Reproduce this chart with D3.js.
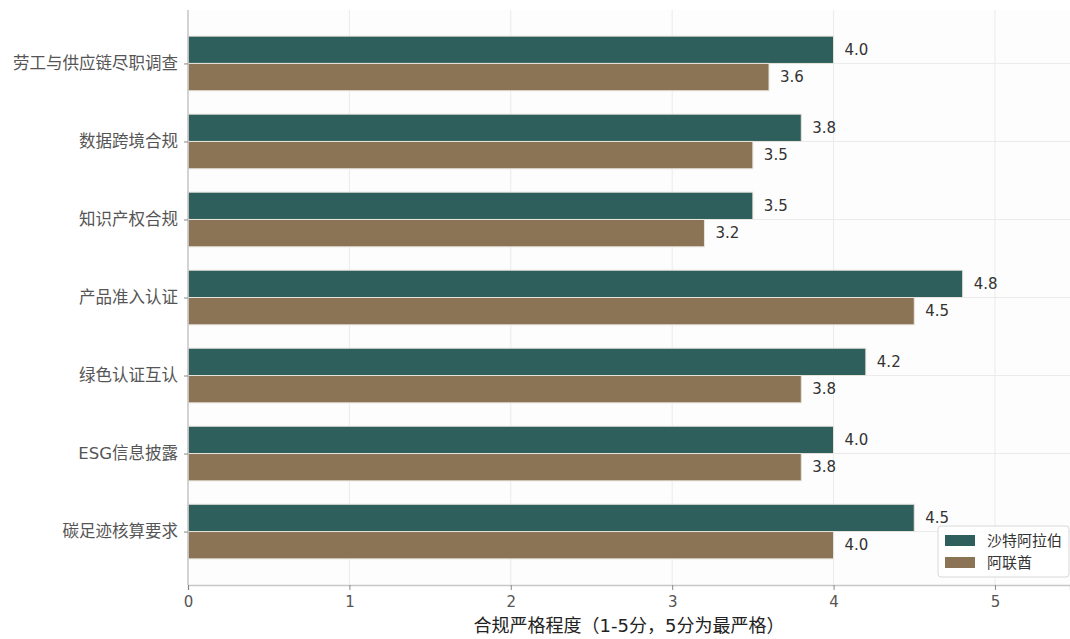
<!DOCTYPE html>
<html>
<head>
<meta charset="utf-8">
<script src="https://cdn.jsdelivr.net/npm/d3@7"></script>
<style>
  body { margin: 0; background: #fff; }
  svg { font-family: "DejaVu Sans", "Noto Sans CJK SC", sans-serif; }
</style>
</head>
<body>
<div id="chart"></div>
<script>
// categories, top to bottom
var categories = ["劳工与供应链尽职调查", "数据跨境合规", "知识产权合规", "产品准入认证", "绿色认证互认", "ESG信息披露", "碳足迹核算要求"];
var saudi = [4.0, 3.8, 3.5, 4.8, 4.2, 4.0, 4.5];
var uae = [3.6, 3.5, 3.2, 4.5, 3.8, 3.8, 4.0];
var seriesNames = ["沙特阿拉伯", "阿联酋"];
var xTicks = [0, 1, 2, 3, 4, 5];
var xLabel = "合规严格程度（1-5分，5分为最严格）";

var colors = ["#2e5f5c", "#8b7355"];

var W = 1070, H = 639;
var margin = {top: 10, right: 0, bottom: 54, left: 188};
var width = W - margin.left - margin.right,
    height = H - margin.top - margin.bottom;

var svg = d3.select("#chart").append("svg")
    .attr("width", W)
    .attr("height", H);

var g = svg.append("g")
    .attr("transform", "translate(" + margin.left + "," + margin.top + ")");

g.append("rect")
    .attr("width", width)
    .attr("height", height)
    .attr("fill", "#fdfdfd");

var x = d3.scaleLinear()
    .domain([0, 5.465])
    .range([0, width]);

// categorical index scale, matplotlib-like margins
var barH = 0.35;
var y = d3.scaleLinear()
    .domain([-0.685, categories.length - 1 + 0.685])
    .range([0, height]);

// grid
g.selectAll(".vgrid")
    .data(xTicks).enter()
    .append("line")
    .attr("x1", function(d) { return x(d); })
    .attr("x2", function(d) { return x(d); })
    .attr("y1", 0).attr("y2", height)
    .attr("stroke", "#ebebeb").attr("stroke-width", 1);

g.selectAll(".hgrid")
    .data(categories).enter()
    .append("line")
    .attr("x1", 0).attr("x2", width)
    .attr("y1", function(d, i) { return y(i); })
    .attr("y2", function(d, i) { return y(i); })
    .attr("stroke", "#ebebeb").attr("stroke-width", 1);

// bars
var series = [saudi, uae];
series.forEach(function(vals, s) {
  g.selectAll(".bar" + s)
      .data(vals).enter()
      .append("rect")
      .attr("x", x(0))
      .attr("y", function(d, i) { return y(i - barH + s * barH); })
      .attr("width", function(d) { return x(d) - x(0); })
      .attr("height", y(barH) - y(0))
      .attr("fill", colors[s])
      .attr("stroke", "#e8e4dc")
      .attr("stroke-width", 1);

  g.selectAll(".lab" + s)
      .data(vals).enter()
      .append("text")
      .attr("x", function(d) { return x(d) + 11; })
      .attr("y", function(d, i) { return y(i - barH / 2 + s * barH); })
      .attr("dy", "0.35em")
      .attr("font-size", 15)
      .attr("fill", "#333")
      .text(function(d) { return d.toFixed(1); });
});

// x axis
var xAxis = g.append("g")
    .attr("transform", "translate(0," + height + ")")
    .call(d3.axisBottom(x).tickValues(xTicks).tickSize(5).tickPadding(6).tickFormat(d3.format("d")));
xAxis.select(".domain").attr("stroke", "#c8c8c8").attr("stroke-width", 1.5);
xAxis.selectAll(".tick line").attr("stroke", "#888");
xAxis.selectAll(".tick text").attr("font-size", 15).attr("fill", "#555")
    .attr("font-family", "DejaVu Sans");

// y axis
var yAxis = g.append("g")
    .call(d3.axisLeft(y).tickValues(d3.range(categories.length)).tickSize(4).tickPadding(6)
      .tickFormat(function(i) { return categories[i]; }));
yAxis.select(".domain").attr("stroke", "#c8c8c8").attr("stroke-width", 1.5)
    .attr("d", "M0,0V" + height);
yAxis.selectAll(".tick line").attr("stroke", "#888");
yAxis.selectAll(".tick text").attr("font-size", 16.5).attr("fill", "#555")
    .attr("font-family", "DejaVu Sans, Noto Sans CJK SC");

// x label
svg.append("text")
    .attr("x", margin.left + width / 2)
    .attr("y", 632)
    .attr("text-anchor", "middle")
    .attr("font-size", 18)
    .attr("fill", "#222")
    .text(xLabel);

// legend
var lg = svg.append("g").attr("transform", "translate(938,526)");
lg.append("rect")
    .attr("width", 131).attr("height", 51)
    .attr("rx", 3)
    .attr("fill", "#fff").attr("fill-opacity", 0.85)
    .attr("stroke", "#d8d8d8");
seriesNames.forEach(function(name, i) {
  lg.append("rect")
      .attr("x", 7).attr("y", 9 + i * 22)
      .attr("width", 30).attr("height", 11)
      .attr("fill", colors[i]);
  lg.append("text")
      .attr("x", 49).attr("y", 15 + i * 22)
      .attr("dy", "0.35em")
      .attr("font-size", 15)
      .attr("fill", "#333")
      .text(name);
});
</script>
</body>
</html>
